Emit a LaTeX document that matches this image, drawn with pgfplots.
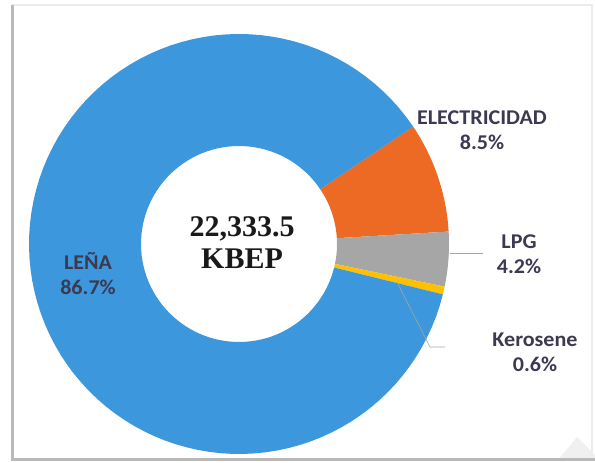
\documentclass[border=0pt]{standalone}
\usepackage{pgfplots}
\pgfplotsset{compat=1.18}
\usepackage{pgfplotstable}
\usepackage{fontspec}
\setmainfont{Carlito}
\newfontfamily\timesf{Liberation Serif}
\definecolor{cblue}{HTML}{3C97DC}
\definecolor{corange}{HTML}{EC6A24}
\definecolor{cgrey}{HTML}{A6A6A6}
\definecolor{cyellow}{HTML}{FFC000}
\definecolor{ctext}{HTML}{3B3A50}

\pgfplotstableread{
name pct
Electricidad 8.5
LPG 4.2
Kerosene 0.6
Lena 86.7
}\datatable

\newcommand{\ringseg}[3]{%
  \addplot[fill=#1, draw=none, domain=0:3, samples=301, variable=\t]
  ({239 + (210+(98-210)*min(max(\t-1,0),1))*cos(#2+(#3-#2)*min(\t,1)+(#2-#3)*max(\t-2,0))},
   {219 + (210+(98-210)*min(max(\t-1,0),1))*sin(#2+(#3-#2)*min(\t,1)+(#2-#3)*max(\t-2,0))});
}

\begin{document}
\begin{tikzpicture}
\pgfplotstablegetelem{0}{pct}\of\datatable \edef\pA{\pgfplotsretval}
\pgfplotstablegetelem{1}{pct}\of\datatable \edef\pB{\pgfplotsretval}
\pgfplotstablegetelem{2}{pct}\of\datatable \edef\pC{\pgfplotsretval}
\pgfplotstablegetelem{3}{pct}\of\datatable \edef\pD{\pgfplotsretval}
\pgfmathsetmacro{\aA}{34}
\pgfmathsetmacro{\aB}{\aA-3.6*\pA}
\pgfmathsetmacro{\aC}{\aB-3.6*\pB}
\pgfmathsetmacro{\aD}{\aC-3.6*\pC}
\pgfmathsetmacro{\aE}{\aD-3.6*\pD}
\begin{axis}[
  scale only axis, width=595pt, height=463pt,
  xmin=0, xmax=595, ymin=0, ymax=463,
  hide axis, clip=false,
]
\path[use as bounding box] (axis cs:0,0) rectangle (axis cs:595,463);
% frame
\fill[gray!12] (axis cs:558,3) -- (axis cs:577,26) -- (axis cs:595,8) -- (axis cs:595,3) -- cycle;
\draw[gray!15, line width=1.5pt] (axis cs:12,458) -- (axis cs:592,458) -- (axis cs:592,3);
\draw[gray!55, line width=3pt] (axis cs:12,458) -- (axis cs:12,3) -- (axis cs:595,3);

\ringseg{corange}{\aA}{\aB}
\ringseg{cgrey}{\aB}{\aC}
\ringseg{cyellow}{\aC}{\aD}
\ringseg{cblue}{\aD}{\aE}

% leader lines
\draw[gray!70, line width=0.6pt] (axis cs:450,210) -- (axis cs:483,210);
\draw[gray!70, line width=0.6pt] (axis cs:397,181) -- (axis cs:430,116) -- (axis cs:445,116);

% labels
\tikzset{lab/.style={text=ctext, font=\fontsize{21}{24}\selectfont\bfseries, align=center, xscale=1.05, inner sep=0pt}}
\node[lab] at (axis cs:482,333) {ELECTRICIDAD\\[1pt]8.5\%};
\node[lab] at (axis cs:519,209) {LPG\\[1pt]4.2\%};
\node[lab] at (axis cs:535,111) {Kerosene\\[1pt]0.6\%};
\node[lab] at (axis cs:88,189) {LEÑA\\[1pt]86.7\%};
\node[text=black!90, font=\fontsize{30}{34}\selectfont\timesf\bfseries, align=center] at (axis cs:242,220) {22,333.5\\[-2pt]KBEP};
\end{axis}
\end{tikzpicture}
\end{document}
